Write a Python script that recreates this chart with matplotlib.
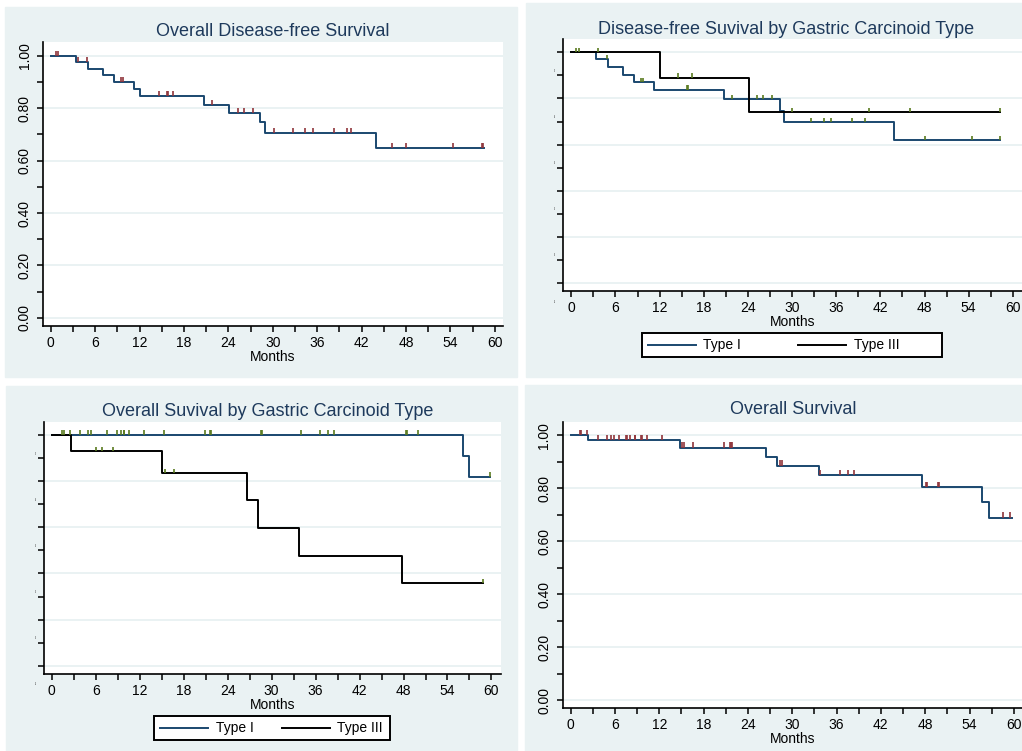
import numpy as np
import matplotlib as mpl
import matplotlib.pyplot as plt
from matplotlib.patches import Rectangle
from matplotlib.lines import Line2D
from matplotlib.transforms import blended_transform_factory

mpl.use("Agg")
plt.rcParams["font.family"] = ["Liberation Sans", "DejaVu Sans"]

W, H = 1022, 751
NAVY = "#1a476f"
MAROON = "#90353b"
GREEN = "#5a7a1f"
BG = "#eaf2f3"
TITLE_C = "#1e3a5c"

# ---- data ----
# overall disease-free survival
dfs_t = [0, 3.4, 5.05, 7.07, 8.56, 11.2, 12.07, 20.7, 24.05, 28.3, 28.96, 43.9]
dfs_s = [1.0, 0.976, 0.950, 0.926, 0.901, 0.873, 0.845, 0.813, 0.781, 0.746, 0.706, 0.649]
dfs_end = 58.6
dfs_cens = [0.68, 0.95, 3.65, 4.9, 9.5, 9.7, 14.6, 15.7, 15.9, 16.5, 21.8, 25.3, 26.1,
            27.3, 30.2, 32.7, 34.4, 35.4, 38.3, 40.0, 40.5, 46.1, 48.0, 54.4, 58.3, 58.45]

# disease-free survival by type
dfs1_t = [0, 3.4, 5.03, 7.07, 8.5, 11.2, 20.7, 28.3, 28.95, 43.9]
dfs1_s = [1.0, 0.970, 0.935, 0.903, 0.871, 0.837, 0.796, 0.747, 0.697, 0.618]
dfs1_end = 58.3
dfs1_cens = [0.7, 1.0, 4.9, 9.45, 9.7, 15.7, 15.9, 21.8, 25.3, 26.1, 27.3, 32.6, 34.3,
             35.3, 38.2, 39.9, 48.0, 54.5, 58.3]
dfs3_t = [0, 12.1, 24.1]
dfs3_s = [1.0, 0.889, 0.740]
dfs3_end = 58.3
dfs3_cens = [3.6, 14.5, 16.4, 30.0, 40.4, 46.0, 58.3]

# overall survival by type
os1_t = [0, 56.1, 56.9]
os1_s = [1.0, 0.910, 0.819]
os1_end = 59.8
os1_cens = [1.45, 1.7, 2.45, 3.8, 5.0, 5.4, 7.6, 8.9, 9.5, 9.8, 9.9, 10.5, 12.6, 15.3,
            20.9, 21.6, 21.8, 28.5, 28.7, 34.0, 36.6, 37.7, 38.5, 48.4, 48.5, 50.0, 59.8]
os3_t = [0, 2.7, 15.1, 26.7, 28.1, 33.8, 47.8]
os3_s = [1.0, 0.929, 0.835, 0.717, 0.597, 0.477, 0.358]
os3_end = 58.9
os3_cens = [6.1, 6.8, 8.3, 15.5, 16.7, 58.9]

# overall survival
os_t = [0, 2.4, 14.8, 26.4, 27.9, 33.6, 47.5, 55.75, 56.6]
os_s = [1.0, 0.981, 0.953, 0.919, 0.885, 0.849, 0.804, 0.748, 0.689]
os_end = 59.7
os_cens = [1.2, 1.4, 2.2, 3.7, 4.9, 5.4, 5.9, 6.5, 7.45, 7.6, 8.0, 8.65, 8.75, 9.5, 9.7,
           10.4, 12.4, 15.1, 15.3, 16.55, 20.75, 21.55, 21.7, 21.9, 28.3, 28.55, 33.7,
           36.4, 37.5, 38.3, 48.1, 48.3, 49.7, 49.85, 58.5, 59.5]

yvals = [0.0, 0.2, 0.4, 0.6, 0.8, 1.0]
ylabels = ["0.00", "0.20", "0.40", "0.60", "0.80", "1.00"]
xvals = list(range(0, 61, 6))
group_labels = ["Type I", "Type III"]


def px_axes(fig, x0, y0, x1, y1):
    return fig.add_axes([x0 / W, 1 - y1 / H, (x1 - x0) / W, (y1 - y0) / H])


def panel_bg(fig, x0, y0, x1, y1):
    fig.patches.append(Rectangle((x0 / W, 1 - y1 / H), (x1 - x0) / W, (y1 - y0) / H,
                                 transform=fig.transFigure, color=BG, zorder=-10))


def km(ax, t, s, end, cens, color, mcolor, h=0.02, lw=1.4):
    xs = list(t) + [end]
    ys = list(s) + [s[-1]]
    ax.step(xs, ys, where="post", color=color, lw=lw, zorder=3)
    idx = np.searchsorted(np.array(t), np.array(cens), side="right") - 1
    lev = np.array(s)[idx]
    ax.vlines(cens, lev, lev + h, color=mcolor, lw=1.2, zorder=4)


def style(ax, xlim, ylim, tiny=False):
    ax.set_xlim(*xlim)
    ax.set_ylim(*ylim)
    for sp in ["top", "right"]:
        ax.spines[sp].set_visible(False)
    for sp in ["left", "bottom"]:
        ax.spines[sp].set_linewidth(1.2)
    ax.set_xticks(xvals)
    ax.set_xticks(np.arange(3, 60, 6), minor=True)
    ax.set_xticklabels([str(v) for v in xvals], fontsize=10)
    ax.set_yticks(yvals)
    ax.set_yticks(np.arange(0.1, 1.0, 0.2), minor=True)
    if tiny:
        ax.set_yticklabels([])
        tr = blended_transform_factory(ax.transAxes, ax.transData)
        for v, lab in zip(yvals, ylabels):
            ax.text(-0.017, v - 0.072, lab, fontsize=1.5, rotation=90, transform=tr,
                    ha="center", va="center", color="#333333")
    else:
        ax.set_yticklabels(ylabels, fontsize=10, rotation=90, va="center")
    ax.tick_params(which="both", direction="out", length=4.2, width=1.1, pad=3)
    ax.tick_params(axis="y", pad=4)
    ax.grid(axis="y", which="major", color=BG, lw=1.4)
    ax.set_axisbelow(True)
    ax.set_xlabel("Months", fontsize=10, labelpad=0)


def box_legend(fig, box, entries):
    # box = (x0, y0, x1, y1) in pixels; entries = [(line_x0, line_x1, text_x, colour, label)]
    x0, y0, x1, y1 = box
    fig.patches.append(Rectangle((x0 / W, 1 - y1 / H), (x1 - x0) / W, (y1 - y0) / H,
                                 transform=fig.transFigure, facecolor="white",
                                 edgecolor="black", lw=1.4, zorder=5))
    yc = 1 - (y0 + y1) / 2 / H
    for lx0, lx1, tx, col, lab in entries:
        fig.add_artist(Line2D([lx0 / W, lx1 / W], [yc, yc], color=col, lw=1.4,
                              transform=fig.transFigure, zorder=6))
        fig.text(tx / W, yc, lab, fontsize=10, ha="left", va="center", zorder=6)


fig = plt.figure(figsize=(W / 100, H / 100), dpi=100)
fig.patch.set_facecolor("white")

panel_bg(fig, 5, 7, 517, 377)
panel_bg(fig, 526, 3, 1022, 377)
panel_bg(fig, 6, 386, 517, 751)
panel_bg(fig, 525, 385, 1022, 751)

# top-left
ax1 = px_axes(fig, 43, 42, 503, 326)
km(ax1, dfs_t, dfs_s, dfs_end, dfs_cens, NAVY, MAROON)
style(ax1, (-1.04, 61.1), (-0.031, 1.053))
fig.text(273 / W, 1 - 31 / H, "Overall Disease-free Survival", fontsize=13,
         color=TITLE_C, ha="center", va="center")

# top-right
ax2 = px_axes(fig, 563, 39, 1022, 291)
km(ax2, dfs1_t, dfs1_s, dfs1_end, dfs1_cens, NAVY, GREEN)
km(ax2, dfs3_t, dfs3_s, dfs3_end, dfs3_cens, "black", GREEN)
style(ax2, (-1.13, 61.25), (-0.035, 1.058), tiny=True)
fig.text(786 / W, 1 - 30 / H, "Disease-free Suvival by Gastric Carcinoid Type",
         fontsize=13, color=TITLE_C, ha="center", va="center")
box_legend(fig, (642, 333, 942, 357),
           [(648, 696, 703, NAVY, group_labels[0]),
            (798, 846, 854, "black", group_labels[1])])

# bottom-left
ax3 = px_axes(fig, 43.7, 421.7, 501, 674)
km(ax3, os1_t, os1_s, os1_end, os1_cens, NAVY, GREEN)
km(ax3, os3_t, os3_s, os3_end, os3_cens, "black", GREEN)
style(ax3, (-1.09, 61.3), (-0.036, 1.058), tiny=True)
fig.text(268 / W, 1 - 412 / H, "Overall Suvival by Gastric Carcinoid Type",
         fontsize=13, color=TITLE_C, ha="center", va="center")
box_legend(fig, (154, 716, 390, 740),
           [(160, 208, 216, NAVY, group_labels[0]),
            (282, 330, 337, "black", group_labels[1])])

# bottom-right
ax4 = px_axes(fig, 562.7, 422, 1022, 707.7)
km(ax4, os_t, os_s, os_end, os_cens, NAVY, MAROON)
style(ax4, (-1.08, 61.1), (-0.029, 1.05))
fig.text(793 / W, 1 - 409 / H, "Overall Survival", fontsize=13,
         color=TITLE_C, ha="center", va="center")

fig.savefig("out.png", dpi=100)
